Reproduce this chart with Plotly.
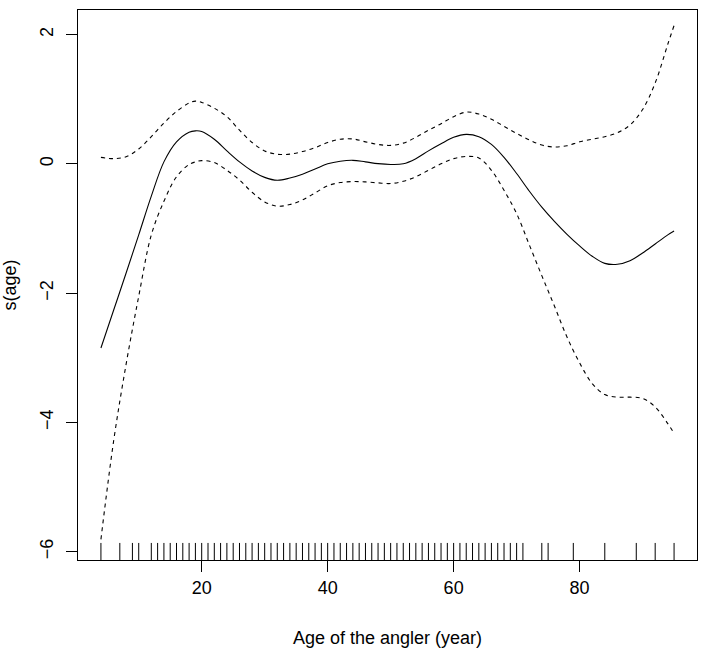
import plotly.graph_objects as go

# Ages at which the smooth and its confidence band were read
ages = [4, 6, 8, 10, 12, 14, 16, 18, 19, 20, 22, 24, 26, 28, 30, 32, 34, 36, 38, 40,
        42, 44, 46, 48, 50, 52, 54, 56, 58, 60, 62, 64, 66, 68, 70, 72, 74, 76, 78,
        80, 82, 84, 86, 88, 90, 92, 94, 95]

fit = [-2.85, -2.27, -1.69, -1.1, -0.5, 0.03, 0.34, 0.49, 0.51, 0.5, 0.38, 0.2, 0.03,
       -0.11, -0.21, -0.255, -0.22, -0.16, -0.08, 0.0, 0.04, 0.054, 0.03, 0.003, -0.01,
       0.0, 0.08, 0.2, 0.31, 0.41, 0.455, 0.42, 0.3, 0.1, -0.15, -0.42, -0.67, -0.89,
       -1.09, -1.27, -1.43, -1.54, -1.555, -1.5, -1.38, -1.24, -1.1, -1.04]

upper = [0.1, 0.08, 0.11, 0.23, 0.42, 0.63, 0.81, 0.94, 0.97, 0.95, 0.86, 0.73, 0.52,
         0.33, 0.2, 0.148, 0.15, 0.19, 0.25, 0.33, 0.38, 0.385, 0.34, 0.3, 0.285, 0.32,
         0.41, 0.52, 0.62, 0.73, 0.8, 0.77, 0.69, 0.58, 0.47, 0.37, 0.29, 0.26, 0.28,
         0.34, 0.38, 0.42, 0.48, 0.6, 0.84, 1.25, 1.85, 2.14]

lower = [-5.81, -4.3, -3.1, -2.05, -1.1, -0.58, -0.2, -0.01, 0.03, 0.05, 0.02, -0.1,
         -0.25, -0.44, -0.59, -0.655, -0.63, -0.56, -0.45, -0.34, -0.29, -0.275, -0.28,
         -0.295, -0.305, -0.27, -0.2, -0.1, 0.0, 0.08, 0.115, 0.09, -0.1, -0.41, -0.77,
         -1.25, -1.73, -2.2, -2.68, -3.08, -3.4, -3.57, -3.61, -3.61, -3.63, -3.76,
         -4.02, -4.17]

# Observed ages (rug)
rug_ages = [4, 7, 9, 10] + list(range(12, 72)) + [74, 75, 79, 84, 89, 92, 95]

x_ticks = [20, 40, 60, 80]
y_ticks = [-6, -4, -2, 0, 2]

FONT = "Liberation Sans, Arial, Helvetica, sans-serif"
TXT = dict(family=FONT, size=18, color="black")

fig = go.Figure()
fig.add_trace(go.Scatter(x=ages, y=fit, mode="lines",
                         line=dict(color="black", width=1.1, shape="spline", smoothing=1.0),
                         showlegend=False, hoverinfo="skip"))
for band in (upper, lower):
    fig.add_trace(go.Scatter(x=ages, y=band, mode="lines",
                             line=dict(color="black", width=1.1, dash="4px,4px",
                                       shape="spline", smoothing=1.0),
                             showlegend=False, hoverinfo="skip"))

shapes = []
for a in rug_ages:
    shapes.append(dict(type="line", xref="x", yref="y domain", x0=a, x1=a, y0=0, y1=0.031,
                       line=dict(color="black", width=1)))

fig.update_layout(
    width=702, height=660,
    margin=dict(l=78, r=5, t=10, b=100),
    paper_bgcolor="white", plot_bgcolor="white",
    font=TXT,
    shapes=shapes,
    xaxis=dict(range=[0.36, 98.64], tickvals=x_ticks, ticktext=[str(v) for v in x_ticks],
               tickfont=TXT,
               showgrid=False, zeroline=False, showline=True, mirror=True,
               linecolor="black", linewidth=1, ticks="outside", ticklen=11,
               tickcolor="black", tickwidth=1, ticklabelstandoff=0,
               title=dict(text="Age of the angler (year)", standoff=34, font=TXT)),
    yaxis=dict(range=[-6.13, 2.38], tickvals=y_ticks,
               ticktext=[("\u2212" + str(-v)) if v < 0 else str(v) for v in y_ticks],
               tickfont=TXT,
               tickangle=-90,
               showgrid=False, zeroline=False, showline=True, mirror=True,
               linecolor="black", linewidth=1, ticks="outside", ticklen=11,
               tickcolor="black", tickwidth=1, ticklabelstandoff=6,
               title=dict(text="s(age)", standoff=19, font=TXT)),
)

fig.write_html("out.html")
